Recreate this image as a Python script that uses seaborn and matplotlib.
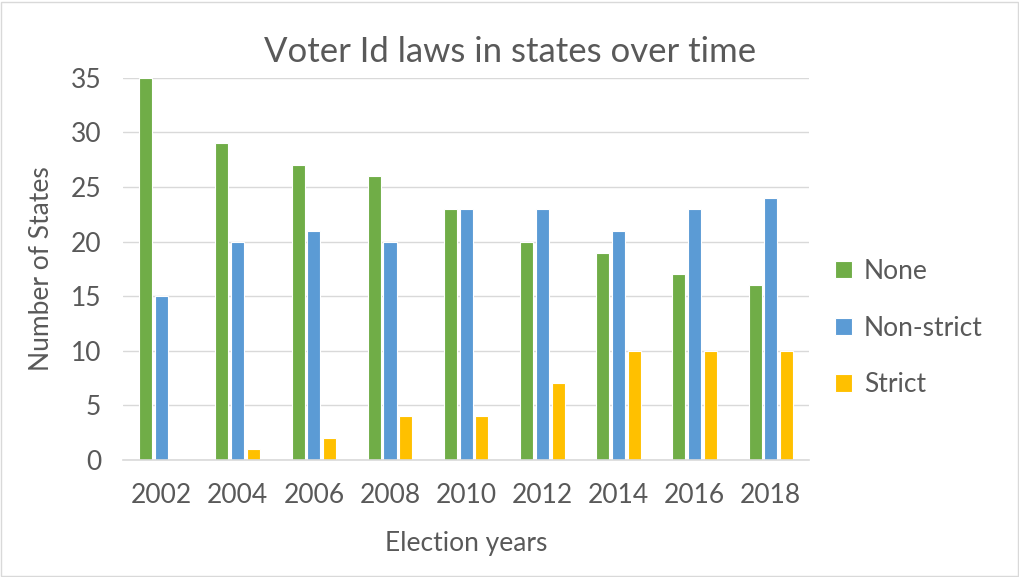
import pandas as pd
import matplotlib.pyplot as plt
import seaborn as sns

# chart values
years = ['2002', '2004', '2006', '2008', '2010', '2012', '2014', '2016', '2018']
none_laws = [35, 29, 27, 26, 23, 20, 19, 17, 16]
non_strict = [15, 20, 21, 20, 23, 23, 21, 23, 24]
strict = [0, 1, 2, 4, 4, 7, 10, 10, 10]
law_types = ['None', 'Non-strict', 'Strict']

df = pd.DataFrame({
    'Year': years * 3,
    'Type': [t for t in law_types for _ in years],
    'States': none_laws + non_strict + strict,
})

sns.set_theme(style="white")
plt.rcParams['font.family'] = ['Lato', 'DejaVu Sans']

fig = plt.figure(figsize=(10.2, 5.77), dpi=100)
ax = fig.add_axes([0.121, 0.203, 0.672, 0.662])

palette = {'None': '#70AD47', 'Non-strict': '#5B9BD5', 'Strict': '#FFC000'}
sns.barplot(data=df, x='Year', y='States', hue='Type', palette=palette,
            width=0.62, gap=0.17, ax=ax, saturation=1, linewidth=0.8,
            edgecolor='white')

ax.set_ylim(0, 35)
ax.set_yticks(range(0, 36, 5))
ax.yaxis.grid(True, color='#d9d9d9', linewidth=1)
ax.set_axisbelow(True)
for side in ['top', 'right', 'left']:
    ax.spines[side].set_visible(False)
ax.spines['bottom'].set_color('#d9d9d9')
ax.spines['bottom'].set_linewidth(1.2)
ax.tick_params(axis='both', colors='#595959', labelsize=19, length=0)
ax.tick_params(axis='x', pad=17)
ax.tick_params(axis='y', pad=16)

ax.set_xlabel('Election years', fontsize=19, color='#595959', labelpad=16)
ax.set_ylabel('Number of States', fontsize=19, color='#595959', labelpad=12)
fig.text(0.5, 0.91, 'Voter Id laws in states over time', ha='center', va='center',
         fontsize=25, color='#595959')

leg = ax.legend(loc='center left', bbox_to_anchor=(1.003, 0.345), frameon=False,
                fontsize=19, handlelength=0.65, handleheight=0.65,
                labelspacing=1.2, handletextpad=0.45)
for t in leg.get_texts():
    t.set_color('#595959')

# light frame around the chart
fig.patches.append(plt.Rectangle((0.001, 0.002), 0.997, 0.995, transform=fig.transFigure,
                                 fill=False, edgecolor='#d9d9d9', linewidth=1))

plt.savefig('out.png', dpi=100)
